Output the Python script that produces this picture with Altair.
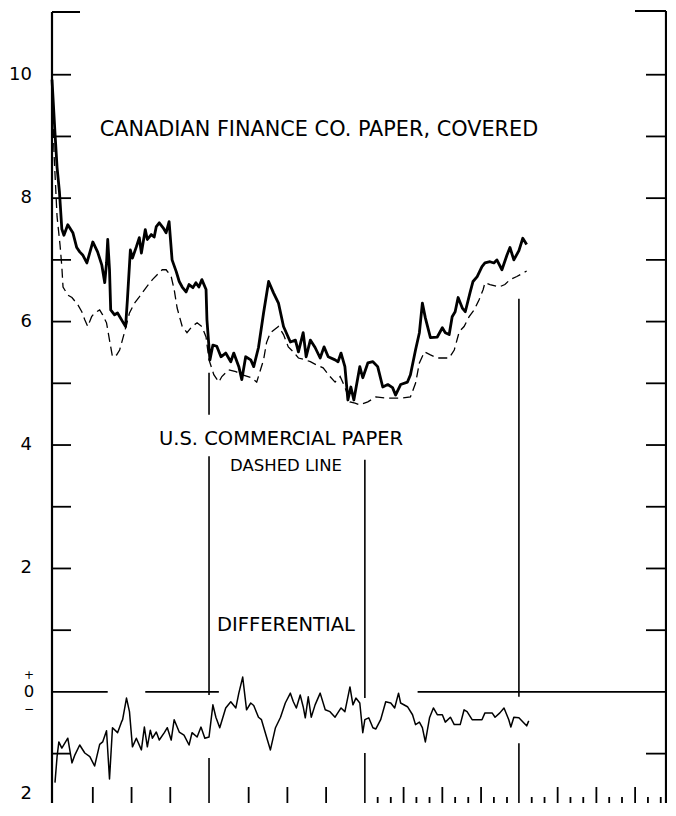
import altair as alt
import pandas as pd

# x positions are in weeks from the start of the charted span (4 years = 208 weeks)
can_week = [0, 1, 1.7, 2.5, 3.3, 4, 5.3, 7, 8.3, 9.3, 10.3, 11.7, 13.7, 15.3, 16.7, 17.7, 18.3, 18.7, 19.3, 19.7,
            21, 22, 23.7, 24.7, 25.3, 26.3, 27, 28.3, 29.3, 30, 31.3, 32, 33.3, 34.3, 35, 36, 37.3, 38.3, 39.3, 40.3,
            41.7, 42.7, 43.7, 45, 46, 47.3, 48.3, 49.3, 50.3, 51.7, 52, 53, 54, 55.3, 56.7, 58.3, 60, 61, 62.7, 63.7,
            65, 66.7, 67.7, 69.3, 71, 72.7, 74.3, 76, 77.7, 80, 81.7, 82.7, 84.3, 85.3, 86.7, 88.3, 90, 91.3, 92.7, 95,
            96, 97, 98.3, 99.3, 100.3, 101.3, 103.3, 104.3, 106, 107.7, 109.3, 111, 112.7, 114.3, 115.3, 117, 119.3,
            120.3, 122, 123.3, 124.3, 125.3, 127, 129.3, 131, 132, 133.3, 134.3, 135.3, 136.3, 137.7, 138.7, 140.3,
            141.3, 142.7, 144.3, 145.3, 147, 148.3, 149.3, 151, 152.7, 153.7, 155, 156.7, 158, 159.3]
can_rate = [9.92, 9.06, 8.5, 8.1, 7.5, 7.4, 7.57, 7.44, 7.2, 7.13, 7.08, 6.95, 7.29, 7.13, 6.92, 6.63, 6.95, 7.33, 6.84, 6.19,
            6.11, 6.14, 6.0, 5.92, 6.35, 7.16, 7.03, 7.21, 7.36, 7.11, 7.49, 7.33, 7.41, 7.37, 7.54, 7.6, 7.52, 7.44, 7.62, 7.0,
            6.81, 6.65, 6.56, 6.48, 6.6, 6.55, 6.63, 6.56, 6.68, 6.52, 6.03, 5.38, 5.62, 5.6, 5.43, 5.49, 5.35, 5.49, 5.27, 5.06,
            5.43, 5.38, 5.27, 5.58, 6.14, 6.65, 6.47, 6.30, 5.92, 5.67, 5.7, 5.51, 5.82, 5.43, 5.7, 5.58, 5.41, 5.59, 5.43, 5.38,
            5.35, 5.49, 5.27, 4.73, 4.94, 4.73, 5.27, 5.09, 5.33, 5.35, 5.27, 4.94, 4.98, 4.93, 4.81, 4.98, 5.02,
            5.14, 5.54, 5.82, 6.30, 6.06, 5.74, 5.75, 5.9, 5.82, 5.79, 6.08, 6.16, 6.39, 6.22, 6.16, 6.47,
            6.65, 6.73, 6.89, 6.95, 6.97, 6.95, 7.0, 6.84, 7.08, 7.2, 7.0, 7.15, 7.35, 7.25]

us_week = [0, 0.7, 1.7, 2.7, 3.3, 3.7, 5.3, 6.7, 8.7, 10, 11, 12, 13.3, 14.3, 16, 17, 18.3, 19.3, 20.3, 21.7,
           22.7, 24.3, 26, 27.7, 29.3, 31.7, 33.7, 35.3, 37, 38.3, 40, 41, 42, 43.7, 45.3, 47, 48.7, 50.3, 51.7, 52.7,
           54.3, 56, 57, 59.3, 61.7, 63.7, 67, 68.7, 71, 72, 73.3, 76, 77.7, 79.3, 81, 82.7, 85, 86.7, 88.7, 91,
           93.3, 95, 96.7, 98.3, 100, 101.7, 103.3, 106, 108.7, 112, 117, 120.3, 122, 123.3, 125, 127, 129.3, 133.3,
           135, 136.7, 138.3, 140, 141.7, 143.3, 144.7, 145.3, 147, 150, 152, 153.7, 156, 159.3]
us_rate = [9.8, 8.7, 7.7, 7.24, 6.89, 6.56, 6.43, 6.39, 6.27, 6.16, 6.03, 5.92, 6.08, 6.14, 6.19, 6.11, 5.98, 5.7, 5.43, 5.46,
           5.54, 5.82, 6.14, 6.30, 6.40, 6.56, 6.68, 6.76, 6.84, 6.84, 6.73, 6.52, 6.22, 5.92, 5.82, 5.92, 5.98, 5.92, 5.75, 5.38,
           5.14, 5.02, 5.11, 5.22, 5.19, 5.14, 5.09, 5.02, 5.38, 5.66, 5.82, 5.92, 5.79, 5.59, 5.51, 5.41, 5.38, 5.35, 5.3, 5.25,
           5.11, 5.02, 5.11, 4.94, 4.7, 4.68, 4.65, 4.7, 4.78, 4.76, 4.76, 4.78, 5.0, 5.33, 5.51, 5.46, 5.41, 5.41,
           5.54, 5.84, 5.92, 6.08, 6.19, 6.35, 6.52, 6.63, 6.6, 6.56, 6.6, 6.68, 6.73, 6.82]

diff_week = [1, 1.7, 2.3, 3.3, 4.3, 5.3, 6.7, 7.7, 9.3, 11, 12.7, 14.3, 16, 17, 18.3, 19.3, 20.3, 22, 23.3, 23.7,
             25, 26, 27, 28.3, 30, 31, 32, 33, 33.7, 35, 36, 37.7, 38.7, 40, 41, 42.7, 44.3, 46, 47, 48.7,
             50, 51.3, 52.7, 54, 55, 56.3, 58.3, 60, 61.7, 62.7, 64, 65.3, 66.7, 67.7, 69.3, 70.3, 72, 73.3, 75, 76.7,
             78.3, 80, 81, 82, 83.3, 84.3, 85, 86, 87, 88.3, 90, 91.7, 93.3, 95, 97, 98.3, 100, 101, 102, 103.3,
             104.3, 105, 106.3, 107.7, 108.7, 110.3, 112, 113.7, 115, 116.3, 117, 119.3, 121, 122, 123.3, 124.3, 125.3, 126.7,
             128, 129.3, 131, 132, 133.7, 135, 137, 138.3, 139.3, 141, 144.3, 145.3, 147.7, 148.7, 150.3, 151.7, 153.3, 154,
             155, 156.7, 158.3, 159.3, 160]
diff_val = [-1.47, -1.05, -0.81, -0.91, -0.83, -0.75, -1.15, -1.02, -0.86, -0.99, -1.05, -1.2, -0.85, -0.81, -0.63, -1.41, -0.58, -0.66, -0.49, -0.45,
            -0.10, -0.32, -0.89, -0.75, -0.94, -0.57, -0.89, -0.62, -0.75, -0.65, -0.78, -0.66, -0.58, -0.78, -0.45, -0.65, -0.70, -0.86, -0.66, -0.73,
            -0.57, -0.75, -0.73, -0.21, -0.41, -0.58, -0.26, -0.16, -0.26, -0.02, 0.24, -0.29, -0.18, -0.22, -0.41, -0.45, -0.73, -0.94, -0.58, -0.41,
            -0.18, -0.02, -0.16, -0.26, -0.05, -0.24, -0.42, -0.08, -0.41, -0.21, -0.02, -0.29, -0.32, -0.41, -0.26, -0.32, 0.08, -0.21, -0.10, -0.18,
            -0.66, -0.45, -0.42, -0.58, -0.60, -0.45, -0.16, -0.18, -0.26, -0.02, -0.18, -0.24, -0.37, -0.53, -0.49, -0.58, -0.81, -0.42,
            -0.26, -0.37, -0.37, -0.49, -0.41, -0.53, -0.53, -0.29, -0.32, -0.45, -0.45, -0.34, -0.34, -0.41, -0.34, -0.26, -0.45, -0.57,
            -0.41, -0.42, -0.50, -0.55, -0.47]

# axis / frame reference values
y_label_values = [10, 8, 6, 4, 2]
y_label_texts = ["10", "8", "6", "4", "2"]
bottom_label = "2"
frame_tick_values = [-1, 1, 2, 3, 4, 5, 6, 7, 8, 9, 10]
tall_ticks = [13.7, 26.7, 39.7, 66, 79, 92, 118, 131, 144, 169.7, 182.7, 195.7]
short_ticks = [109.3, 113.7, 122.3, 126.7, 135.3, 139.7, 148.3, 152.7, 161, 165.3, 174, 178.3, 187, 191.3, 200, 204.3]
year_week = [52.7, 52.7, 52.7, 105, 105, 156.7, 156.7]
year_top = [5.17, 3.82, -1.07, 3.76, -0.99, 6.37, -0.83]
year_bottom = [4.49, -0.05, -1.8, -0.10, -1.8, -0.08, -1.8]
zero_start = [0, 31.3, 122.7]
zero_end = [18.7, 56, 206.4]
zero_level = [0, 0, 0]

W, H = 615, 790
FONT = "DejaVu Sans"
xs = alt.Scale(domain=[0, 206.4], nice=False, zero=False)
ys = alt.Scale(domain=[-1.8, 11], nice=False, zero=False)

can_df = pd.DataFrame({"week": can_week, "rate": can_rate})
us_df = pd.DataFrame({"week": us_week, "rate": us_rate})
diff_df = pd.DataFrame({"week": diff_week, "rate": diff_val})
one = pd.DataFrame({"a": [0]})

can_line = alt.Chart(can_df).mark_line(color="black", strokeWidth=2.8, strokeJoin="round").encode(
    x=alt.X("week:Q", scale=xs, axis=None), y=alt.Y("rate:Q", scale=ys, axis=None))
us_line = alt.Chart(us_df).mark_line(color="black", strokeWidth=1.3, strokeDash=[9, 5]).encode(
    x=alt.X("week:Q", scale=xs, axis=None), y=alt.Y("rate:Q", scale=ys, axis=None))
diff_line = alt.Chart(diff_df).mark_line(color="black", strokeWidth=1.5, strokeJoin="round").encode(
    x=alt.X("week:Q", scale=xs, axis=None), y=alt.Y("rate:Q", scale=ys, axis=None))

zero_df = pd.DataFrame({"s": zero_start, "e": zero_end, "lv": zero_level})
zero_rule = alt.Chart(zero_df).mark_rule(color="black", strokeWidth=1.6).encode(
    x=alt.X("s:Q", scale=xs, axis=None), x2="e:Q", y=alt.Y("lv:Q", scale=ys, axis=None))

year_df = pd.DataFrame({"w": year_week, "t": year_top, "b": year_bottom})
year_rule = alt.Chart(year_df).mark_rule(color="black", strokeWidth=1.6).encode(
    x=alt.X("w:Q", scale=xs, axis=None), y=alt.Y("t:Q", scale=ys, axis=None), y2="b:Q")

tall_df = pd.DataFrame({"w": tall_ticks})
tall_rule = alt.Chart(tall_df).mark_rule(color="black", strokeWidth=1.8).encode(
    x=alt.X("w:Q", scale=xs, axis=None), y=alt.value(H - 16), y2=alt.value(H + 2))
short_df = pd.DataFrame({"w": short_ticks})
short_rule = alt.Chart(short_df).mark_rule(color="black", strokeWidth=1.8).encode(
    x=alt.X("w:Q", scale=xs, axis=None), y=alt.value(H - 6), y2=alt.value(H + 2))

ft_df = pd.DataFrame({"v": frame_tick_values})
left_ticks = alt.Chart(ft_df).mark_rule(color="black", strokeWidth=1.8).encode(
    y=alt.Y("v:Q", scale=ys, axis=None), x=alt.value(0), x2=alt.value(19))
right_ticks = alt.Chart(ft_df).mark_rule(color="black", strokeWidth=1.8).encode(
    y=alt.Y("v:Q", scale=ys, axis=None), x=alt.value(W - 21), x2=alt.value(W - 1))

left_frame = alt.Chart(one).mark_rule(color="black", strokeWidth=2.2).encode(
    x=alt.value(0), y=alt.value(-1), y2=alt.value(H + 4))
right_frame = alt.Chart(one).mark_rule(color="black", strokeWidth=2.2).encode(
    x=alt.value(W - 1), y=alt.value(-2), y2=alt.value(H + 4))
left_top = alt.Chart(one).mark_rule(color="black", strokeWidth=2).encode(
    x=alt.value(0), x2=alt.value(28), y=alt.value(-1))
right_top = alt.Chart(one).mark_rule(color="black", strokeWidth=2).encode(
    x=alt.value(W - 32), x2=alt.value(W - 1), y=alt.value(-2))

ylab_df = pd.DataFrame({"v": y_label_values, "t": y_label_texts})
ylabels = alt.Chart(ylab_df).mark_text(font=FONT, fontSize=18, color="black", align="right",
                                       baseline="middle").encode(
    y=alt.Y("v:Q", scale=ys, axis=None), x=alt.value(-20), text="t:N")


def label(txt, px, py, size, align="center", baseline="middle"):
    return alt.Chart(one).mark_text(text=txt, font=FONT, fontSize=size, color="black",
                                    align=align, baseline=baseline).encode(
        x=alt.value(px), y=alt.value(py))


texts = [
    label("CANADIAN  FINANCE  CO.  PAPER,  COVERED", 267, 117, 20.8),
    label("U.S.  COMMERCIAL  PAPER", 229, 426, 19.5),
    label("DASHED  LINE", 234, 453, 16.5),
    label("DIFFERENTIAL", 234, 612, 19.5),
    label("+", -23, 668.5, 12, baseline="bottom"),
    label("0", -23, 679, 16.5),
    label("\u2212", -23, 690.5, 12, baseline="top"),
    label(bottom_label, -20, H - 9, 18, align="right"),
]

chart = alt.layer(
    left_frame, right_frame, left_top, right_top, left_ticks, right_ticks,
    zero_rule, year_rule, tall_rule, short_rule,
    us_line, diff_line, can_line, ylabels, *texts
).properties(
    width=W, height=H,
    background="white",
    autosize=alt.AutoSizeParams(type="none"),
    padding={"left": 44, "top": 5, "right": 0, "bottom": 0},
).configure_view(stroke=None)

chart.save("out.html", embed_options={"renderer": "svg", "actions": False})
